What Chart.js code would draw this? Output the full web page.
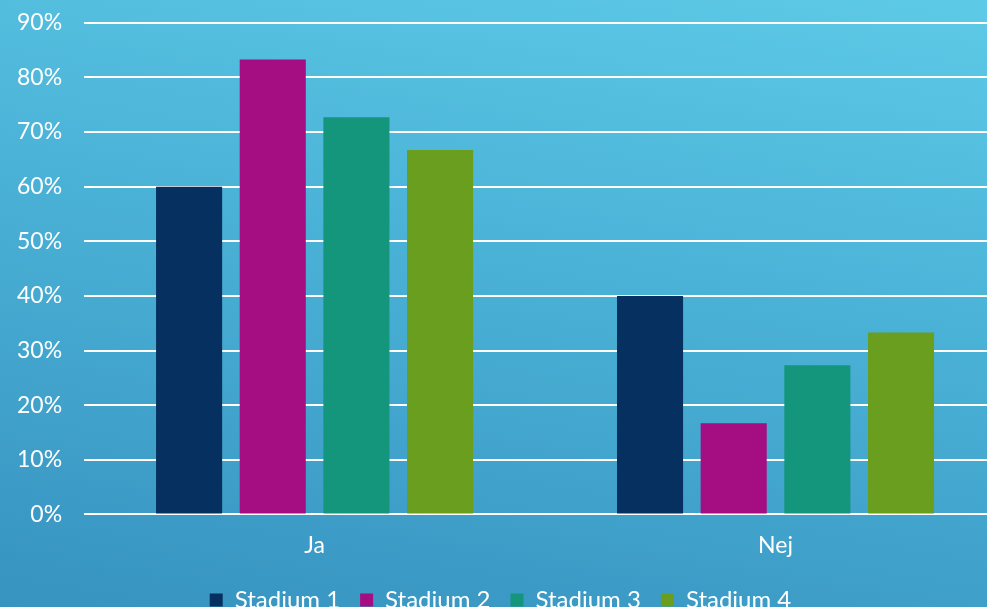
<!DOCTYPE html>
<html>
<head>
<meta charset="utf-8">
<script src="https://cdn.jsdelivr.net/npm/chart.js@4"></script>
<style>
  html, body {
    margin: 0;
    padding: 0;
    width: 987px;
    height: 607px;
    overflow: hidden;
    background: linear-gradient(190deg, #5dcae7 0%, #4ab1d6 45%, #3793c0 100%);
  }
  #wrap { width: 987px; height: 607px; overflow: hidden; position: relative; }
  #dataChart { position: absolute; left: -5px; top: -13px; }
</style>
</head>
<body>
<div id="wrap">
  <canvas id="dataChart" width="1042" height="635"></canvas>
</div>
<script>
const categories = ['Ja', 'Nej']
const stadium1 = [60, 40]
const stadium2 = [83.3, 16.7]
const stadium3 = [72.7, 27.3]
const stadium4 = [66.7, 33.3]
const seriesNames = ['Stadium 1', 'Stadium 2', 'Stadium 3', 'Stadium 4']
const colors = ['#05305f', '#a50e82', '#14967c', '#6a9e1f']

const ctx = document.getElementById('dataChart');

Chart.defaults.font.family = 'Lato, "DejaVu Sans", sans-serif';
Chart.defaults.color = '#ffffff';

var chartData = {
    labels: categories,
    datasets: [stadium1, stadium2, stadium3, stadium4].map(function (values, i) {
        return {
            label: seriesNames[i],
            data: values,
            backgroundColor: colors[i],
            borderWidth: 0,
            categoryPercentage: 0.726,
            barPercentage: 0.79
        };
    })
}

var chartOptions = {
    responsive: false,
    animation: false,
    layout: {
        padding: { top: 2, right: 31, left: 0, bottom: 0 }
    },
    scales: {
        x: {
            grid: { display: false },
            border: { display: false },
            ticks: {
                font: { size: 23 },
                color: '#ffffff',
                padding: 9
            }
        },
        y: {
            min: 0,
            max: 90,
            ticks: {
                stepSize: 10,
                font: { size: 23 },
                color: '#ffffff',
                padding: 22,
                callback: function (v) { return v + '%'; }
            },
            grid: {
                color: '#ffffff',
                lineWidth: 2,
                drawTicks: false
            },
            border: { display: false }
        }
    },
    plugins: {
        legend: {
            position: 'bottom',
            labels: {
                boxWidth: 13,
                boxHeight: 13,
                padding: 20,
                color: '#ffffff',
                font: { size: 24 }
            }
        },
        tooltip: { enabled: false }
    }
};

var myChart = new Chart(ctx, {
    type: 'bar',
    data: chartData,
    options: chartOptions
});
</script>
</body>
</html>
